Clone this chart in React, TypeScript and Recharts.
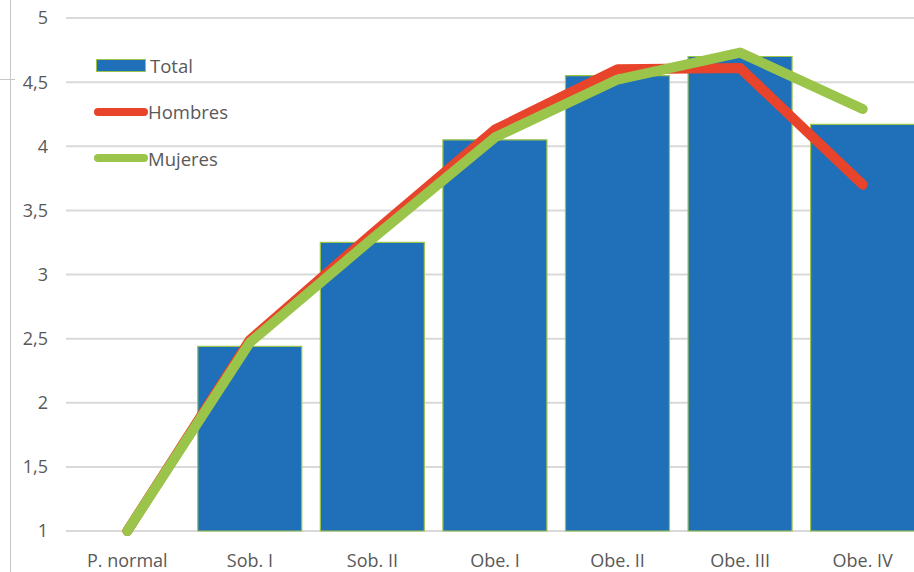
import {
  ComposedChart,
  CartesianGrid,
  XAxis,
  YAxis,
  Bar,
  Line,
} from "recharts";

const categories = [
  "P. normal",
  "Sob. I",
  "Sob. II",
  "Obe. I",
  "Obe. II",
  "Obe. III",
  "Obe. IV",
];
const total = [1, 2.44, 3.25, 4.05, 4.55, 4.7, 4.17];
const hombres = [1, 2.49, 3.32, 4.13, 4.6, 4.61, 3.7];
const mujeres = [1, 2.47, 3.28, 4.07, 4.52, 4.73, 4.29];
const yTicks = [1, 1.5, 2, 2.5, 3, 3.5, 4, 4.5, 5];

const data = categories.map((name, i) => ({
  name,
  Total: total[i],
  Hombres: hombres[i],
  Mujeres: mujeres[i],
}));

const FONT = "'Open Sans', sans-serif";
const TEXT = "#595959";
const BLUE = "#1F6FB9";
const RED = "#E8442B";
const GREEN = "#9BC54A";

const legendItems = [
  { value: "Total", kind: "bar", color: BLUE },
  { value: "Hombres", kind: "line", color: RED },
  { value: "Mujeres", kind: "line", color: GREEN },
];

const ChartLegend = () => (
  <div
    style={{
      position: "absolute",
      left: 94,
      top: 42,
      fontFamily: FONT,
      fontSize: 18.5,
      color: TEXT,
    }}
  >
    {legendItems.map((it) => (
      <div
        key={it.value}
        style={{ display: "flex", alignItems: "center", height: 46.5 }}
      >
        {it.kind === "bar" ? (
          <span
            style={{
              display: "inline-block",
              width: 48,
              height: 11,
              margin: "0 4px 0 2px",
              background: it.color,
              border: `1px solid ${GREEN}`,
            }}
          />
        ) : (
          <span
            style={{
              display: "inline-block",
              width: 54,
              height: 8,
              borderRadius: 4,
              background: it.color,
            }}
          />
        )}
        <span>{it.value}</span>
      </div>
    ))}
  </div>
);

export default function App() {
  return (
    <div
      style={{
        position: "fixed",
        left: 0,
        top: 0,
        width: 914,
        height: 572,
        overflow: "hidden",
        background: "#fff",
      }}
    >
      <div
        style={{
          position: "absolute",
          left: 10,
          top: 0,
          width: 1,
          height: 572,
          background: "#c8c8c8",
        }}
      />
      <div
        style={{
          position: "absolute",
          left: 0,
          top: 79,
          width: 15,
          height: 1,
          background: "#c8c8c8",
        }}
      />
      <ComposedChart
        width={924}
        height={572}
        data={data}
        margin={{ top: 18, right: 0, left: 10, bottom: 11 }}
        barCategoryGap="7.5%"
      >
        <CartesianGrid vertical={false} stroke="#d9d9d9" strokeWidth={2} />
        <XAxis
          dataKey="name"
          axisLine={false}
          tickLine={false}
          tickSize={0}
          tickMargin={23}
          height={30}
          tick={{ fill: TEXT, fontSize: 18, fontFamily: FONT }}
          interval={0}
        />
        <YAxis
          width={56}
          domain={[1, 5]}
          ticks={yTicks}
          axisLine={false}
          tickLine={false}
          tickSize={0}
          tickMargin={18}
          tickFormatter={(v: number) => String(v).replace(".", ",")}
          tick={{ fill: TEXT, fontSize: 18, fontFamily: FONT }}
        />
        <Bar
          dataKey="Total"
          fill={BLUE}
          stroke={GREEN}
          strokeWidth={1.2}
          isAnimationActive={false}
        />
        <Line
          type="linear"
          dataKey="Hombres"
          stroke={RED}
          strokeWidth={10}
          strokeLinecap="round"
          strokeLinejoin="round"
          dot={false}
          activeDot={false}
          isAnimationActive={false}
        />
        <Line
          type="linear"
          dataKey="Mujeres"
          stroke={GREEN}
          strokeWidth={10}
          strokeLinecap="round"
          strokeLinejoin="round"
          dot={false}
          activeDot={false}
          isAnimationActive={false}
        />
      </ComposedChart>
      <ChartLegend />
    </div>
  );
}
